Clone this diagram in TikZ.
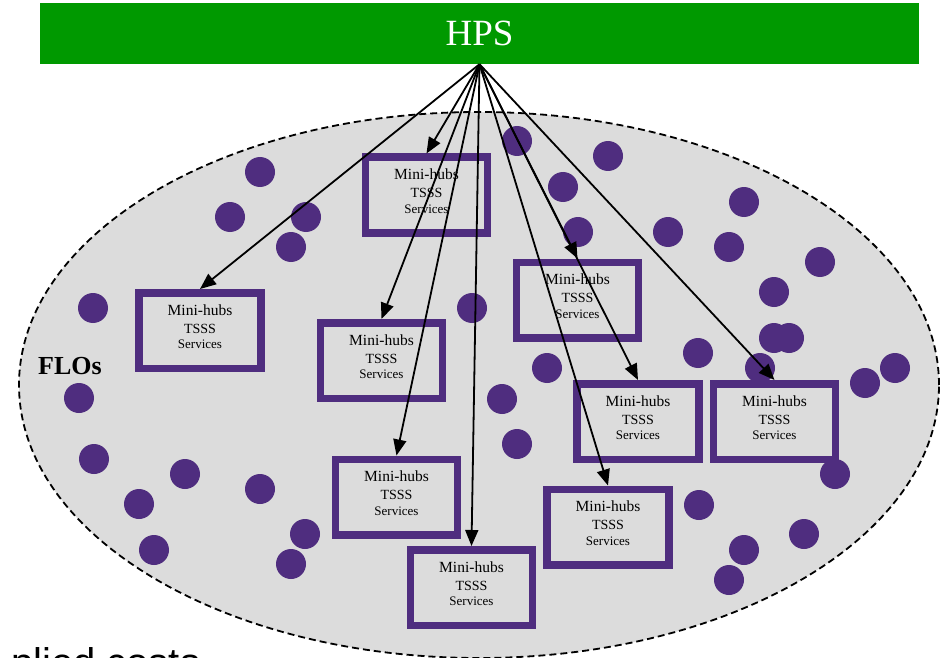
\documentclass[tikz,border=0pt]{standalone}
\usepackage{fontspec}
\setmainfont{Liberation Serif}
\newfontfamily\costfont{Liberation Sans}
\usetikzlibrary{shapes,arrows.meta,positioning}
\definecolor{hubpurple}{RGB}{79,45,127}
\definecolor{hpsgreen}{RGB}{0,153,0}
\definecolor{flogray}{RGB}{220,220,220}
\tikzstyle{bar}=[rectangle,fill=hpsgreen,text=white,minimum width=879pt,minimum height=61pt,inner sep=0pt,font=\fontsize{37}{40}\selectfont]
\tikzstyle{zone}=[draw,dash pattern=on 7pt off 4pt,line width=1.8pt,fill=flogray]
\tikzstyle{hub}=[rectangle,draw=hubpurple,line width=7.5pt,fill=flogray,align=center,minimum width=122pt,minimum height=75.5pt,inner sep=0pt,font=\fontsize{14}{15.5}\selectfont]
\tikzstyle{flo}=[circle,fill=hubpurple,minimum size=30pt,inner sep=0pt]
\tikzstyle{arr}=[-{Triangle[length=16pt,width=13pt]},line width=1.8pt]
\newcommand{\hubtext}{{\fontsize{15.5}{18}\selectfont Mini-hubs}\\[2.5pt]TSSS\\{\fontsize{13}{15}\selectfont Services}\rule[-8pt]{0pt}{8pt}}

\begin{document}
\begin{tikzpicture}[x=1pt,y=-1pt]
\useasboundingbox (0,0) rectangle (940,658);
\clip (0,0) rectangle (940,658);
\node[bar] (hps) at (479.5,33.5) {HPS};
\path[zone] (479,385) ellipse [x radius=460pt, y radius=273pt];
% FLOs scattered in the zone
\foreach \x/\y [count=\i] in {260/172,230/217,306/217,291/247,517/141,608/156,563/187,578/232,668/232,744/202,729/247,820/262,774/292,774/338,789/338,698/353,760/368,547/368,865/383,895/368,93/308,79/398,94/459,185/474,139/504,154/550,260/489,305/534,291/564,472/308,502/399,517/444,835/474,699/505,804/534,744/550,729/580}
  \node[flo] (flo\i) at (\x,\y) {};
\node[hub] (hub1) at (426.5,195) {\hubtext};
\node[hub] (hub2) at (200,330.5) {\hubtext};
\node[hub] (hub3) at (381.5,360.5) {\hubtext};
\node[hub] (hub4) at (577.5,300) {\hubtext};
\node[hub] (hub5) at (638,421.5) {\hubtext};
\node[hub] (hub6) at (774.5,421.5) {\hubtext};
\node[hub] (hub7) at (396.5,497) {\hubtext};
\node[hub] (hub8) at (608,527) {\hubtext};
\node[hub] (hub9) at (471.5,587.5) {\hubtext};
\node[font=\bfseries\fontsize{26}{28}\selectfont] (flos) at (70,366) {FLOs};
\foreach \h in {1,...,9}
  \draw[arr] (hps.south) -- (hub\h.north);
\node[anchor=base west,inner sep=0pt,font=\costfont\fontsize{40}{40}\selectfont] (costs) at (11,676.5) {plied costs};
\end{tikzpicture}
\end{document}
